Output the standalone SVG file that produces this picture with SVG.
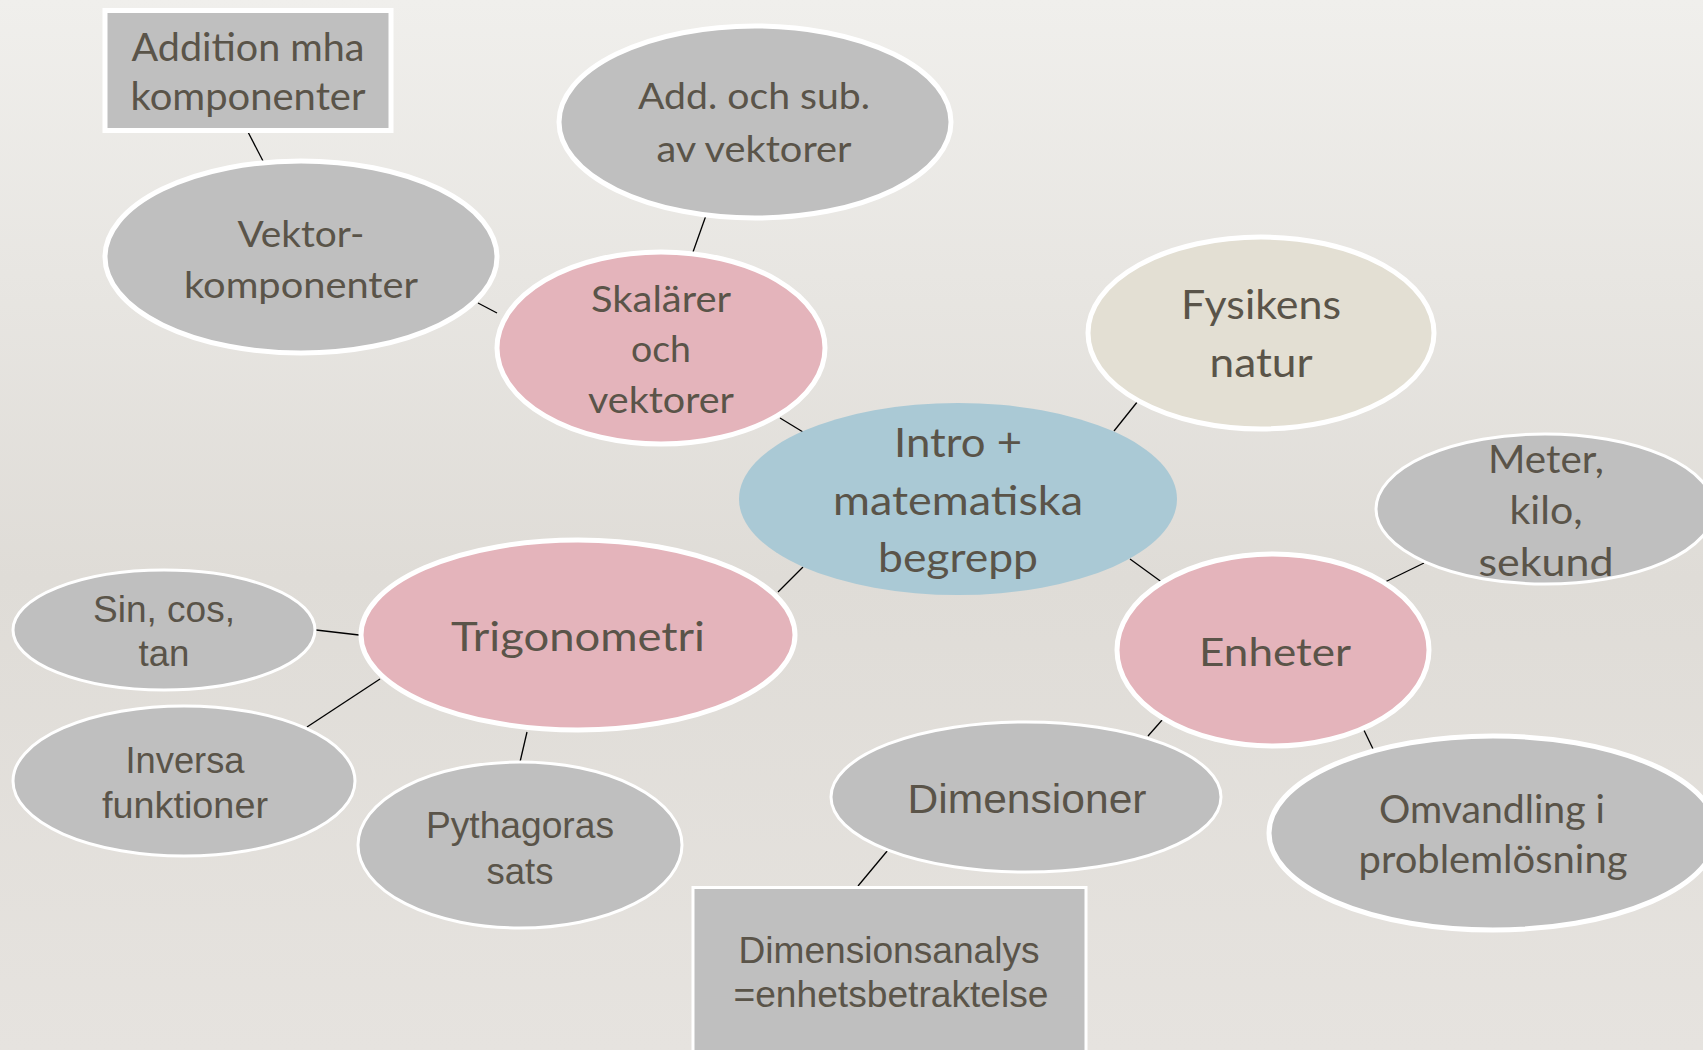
<svg xmlns="http://www.w3.org/2000/svg" width="1703" height="1050" viewBox="0 0 1703 1050">
<defs>
<linearGradient id="bg" x1="0" y1="0" x2="0" y2="1">
<stop offset="0" stop-color="#f0efec"/>
<stop offset="0.55" stop-color="#dfdcd7"/>
<stop offset="1" stop-color="#e6e3df"/>
</linearGradient>
<style>
.g{fill:#bfbfbf}
.p{fill:#e4b4bb}
.b{fill:#aac9d5}
.y{fill:#e3dfd3}
.w5{stroke:#ffffff;stroke-width:5}
.w3{stroke:#ffffff;stroke-width:3}
.c{font-family:Lato,"Open Sans",sans-serif;fill:#5a5449;text-anchor:middle}
.a{font-family:"Liberation Sans",Arial,sans-serif;fill:#5a5449;text-anchor:middle}
#connectors line{stroke:#000;stroke-width:1.3}
</style>
</defs>
<rect x="0" y="0" width="1703" height="1050" fill="url(#bg)"/>
<g id="connectors">
<line x1="248" y1="132" x2="263" y2="161"/>
<line x1="478" y1="303" x2="497" y2="313"/>
<line x1="709" y1="207" x2="693" y2="252"/>
<line x1="780" y1="418" x2="803" y2="432"/>
<line x1="1114" y1="431" x2="1138" y2="401"/>
<line x1="1130" y1="559" x2="1163" y2="583"/>
<line x1="1385" y1="582" x2="1424" y2="563"/>
<line x1="803" y1="567" x2="778" y2="592"/>
<line x1="316" y1="630" x2="359" y2="635"/>
<line x1="307" y1="727" x2="380" y2="679"/>
<line x1="527" y1="732" x2="520" y2="762"/>
<line x1="1163" y1="719" x2="1148" y2="736"/>
<line x1="1360" y1="722" x2="1374" y2="751"/>
<line x1="888" y1="850" x2="858" y2="886"/>
</g>
<g id="addition">
<rect x="105" y="10.5" width="286" height="120" class="g w5"/>
<text class="c" font-size="38" x="248" y="61" textLength="233" lengthAdjust="spacingAndGlyphs">Addition mha</text>
<text class="c" font-size="38" x="248" y="110" textLength="235" lengthAdjust="spacingAndGlyphs">komponenter</text>
</g>
<g id="vektorkomponenter">
<ellipse cx="301" cy="257" rx="196" ry="96" class="g w5"/>
<text class="c" font-size="36" x="301" y="247" textLength="127" lengthAdjust="spacingAndGlyphs">Vektor-</text>
<text class="c" font-size="36" x="301" y="298" textLength="234" lengthAdjust="spacingAndGlyphs">komponenter</text>
</g>
<g id="addsub">
<ellipse cx="755" cy="122" rx="196" ry="96" class="g w5"/>
<text class="c" font-size="37" x="754" y="109" textLength="232" lengthAdjust="spacingAndGlyphs">Add. och sub.</text>
<text class="c" font-size="37" x="754" y="162" textLength="195" lengthAdjust="spacingAndGlyphs">av vektorer</text>
</g>
<g id="skalarer">
<ellipse cx="661" cy="348" rx="164" ry="96" class="p w5"/>
<text class="c" font-size="37" x="661" y="312" textLength="140" lengthAdjust="spacingAndGlyphs">Skalärer</text>
<text class="c" font-size="37" x="661" y="362" textLength="60" lengthAdjust="spacingAndGlyphs">och</text>
<text class="c" font-size="37" x="661" y="413" textLength="146" lengthAdjust="spacingAndGlyphs">vektorer</text>
</g>
<g id="fysikens">
<ellipse cx="1261" cy="333" rx="173" ry="96" class="y w5"/>
<text class="c" font-size="41" x="1261" y="319" textLength="160" lengthAdjust="spacingAndGlyphs">Fysikens</text>
<text class="c" font-size="41" x="1261" y="377" textLength="103" lengthAdjust="spacingAndGlyphs">natur</text>
</g>
<g id="intro">
<ellipse cx="958" cy="499" rx="219" ry="96" class="b"/>
<text class="c" font-size="40" x="958" y="457" textLength="128" lengthAdjust="spacingAndGlyphs">Intro +</text>
<text class="c" font-size="40" x="958" y="515" textLength="250" lengthAdjust="spacingAndGlyphs">matematiska</text>
<text class="c" font-size="40" x="958" y="572" textLength="160" lengthAdjust="spacingAndGlyphs">begrepp</text>
</g>
<g id="meter">
<ellipse cx="1545" cy="509" rx="169" ry="75" class="g w3"/>
<text class="c" font-size="39" x="1546" y="473" textLength="116" lengthAdjust="spacingAndGlyphs">Meter,</text>
<text class="c" font-size="39" x="1546" y="524" textLength="73" lengthAdjust="spacingAndGlyphs">kilo,</text>
<text class="c" font-size="39" x="1546" y="576" textLength="135" lengthAdjust="spacingAndGlyphs">sekund</text>
</g>
<g id="trigonometri">
<ellipse cx="578" cy="635" rx="217" ry="95" class="p w5"/>
<text class="c" font-size="40" x="578" y="651" textLength="254" lengthAdjust="spacingAndGlyphs">Trigonometri</text>
</g>
<g id="sincostan">
<ellipse cx="164" cy="630" rx="151" ry="60" class="g w3"/>
<text class="a" font-size="37" x="164" y="622" textLength="142" lengthAdjust="spacingAndGlyphs">Sin, cos,</text>
<text class="a" font-size="37" x="164" y="666" textLength="51" lengthAdjust="spacingAndGlyphs">tan</text>
</g>
<g id="inversa">
<ellipse cx="184" cy="781" rx="171" ry="75" class="g w3"/>
<text class="a" font-size="37" x="185" y="773" textLength="119" lengthAdjust="spacingAndGlyphs">Inversa</text>
<text class="a" font-size="37" x="185" y="818" textLength="166" lengthAdjust="spacingAndGlyphs">funktioner</text>
</g>
<g id="pythagoras">
<ellipse cx="520" cy="845" rx="162" ry="83" class="g w3"/>
<text class="a" font-size="37" x="520" y="838" textLength="188" lengthAdjust="spacingAndGlyphs">Pythagoras</text>
<text class="a" font-size="37" x="520" y="884" textLength="67" lengthAdjust="spacingAndGlyphs">sats</text>
</g>
<g id="enheter">
<ellipse cx="1273" cy="650" rx="156" ry="96" class="p w5"/>
<text class="c" font-size="39" x="1275" y="666" textLength="152" lengthAdjust="spacingAndGlyphs">Enheter</text>
</g>
<g id="dimensioner">
<ellipse cx="1026" cy="797" rx="195" ry="75" class="g w3"/>
<text class="a" font-size="41" x="1027" y="813" textLength="239" lengthAdjust="spacingAndGlyphs">Dimensioner</text>
</g>
<g id="omvandling">
<ellipse cx="1493" cy="833" rx="224" ry="97" class="g w5"/>
<text class="c" font-size="38" x="1492" y="823" textLength="226" lengthAdjust="spacingAndGlyphs">Omvandling i</text>
<text class="c" font-size="38" x="1493" y="873" textLength="269" lengthAdjust="spacingAndGlyphs">problemlösning</text>
</g>
<g id="dimensionsanalys">
<rect x="693" y="887.5" width="393" height="200" class="g w3"/>
<text class="a" font-size="37" x="889" y="963" textLength="301" lengthAdjust="spacingAndGlyphs">Dimensionsanalys</text>
<text class="a" font-size="37" x="891" y="1007" textLength="315" lengthAdjust="spacingAndGlyphs">=enhetsbetraktelse</text>
</g>
</svg>
